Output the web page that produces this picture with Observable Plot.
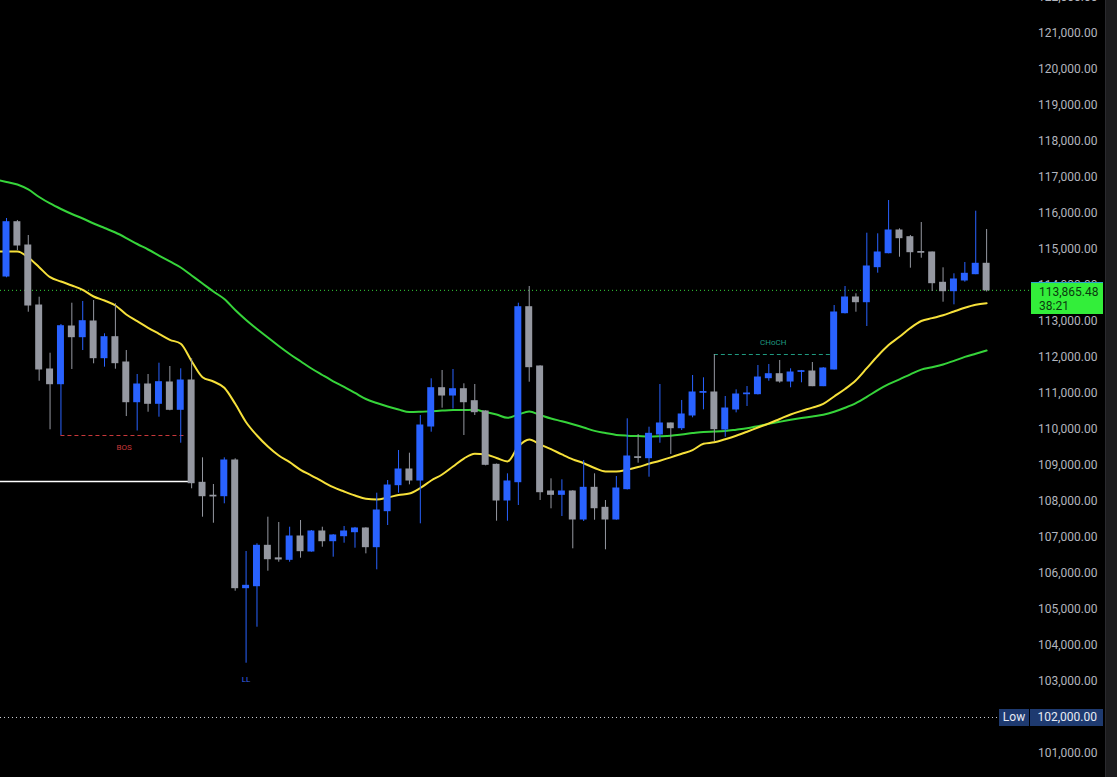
<!DOCTYPE html>
<html><head><meta charset="utf-8">
<script src="https://cdn.jsdelivr.net/npm/d3@7"></script>
<script src="https://cdn.jsdelivr.net/npm/@observablehq/plot@0.6"></script>
<style>
html,body{margin:0;padding:0;background:#000;overflow:hidden}
#wrap{position:relative;width:1117px;height:777px;background:#000}
.ov{position:absolute;font-family:Roboto,"Noto Sans",sans-serif;font-size:12px;box-sizing:border-box}
</style></head><body><div id="wrap"></div><script>
// OHLC candles (index 1..91)
const opens=[114250,115758,115111,113444,111667,111258,112861,112564,113000,111981,112564,111861,110758,111250,110714,111306,110547,111361,108519,108160,108147,109139,105592,105647,106769,106420,106380,107028,106611,107167,106897,107036,107147,107250,106731,107731,108453,108889,108583,110083,111147,110944,111119,110786,110500,109019,108028,108536,113397,111750,108278,108185,108278,107500,108380,107824,107500,108342,109230,109203,109861,110167,110036,110389,111020,111028,110000,110556,110980,110981,111425,111536,111333,111600,111611,111203,111667,113231,113667,113536,114509,114897,115528,115342,114930,114917,114075,113842,114139,114314,114603];
const highs=[115861,115806,115389,113675,112119,112917,113508,113556,113583,112658,113492,112194,111528,111528,111842,111750,111686,111964,109213,108472,109213,109186,106611,106825,107564,107417,107286,107472,107194,107286,107080,107306,107280,107270,108231,108583,109417,109342,110389,111408,111639,111667,111269,111250,110520,109040,108769,113508,113972,111770,108630,108602,108300,109139,108769,108028,108694,110297,109861,110064,111250,110180,110806,111500,111436,112083,110917,111102,111194,111778,111806,111917,111686,111640,111861,111720,113444,113972,113769,115453,115436,116361,115574,115389,115750,114930,114491,114325,114639,116064,115556];
const lows=[114214,114972,113258,111341,109992,109833,111667,112194,111825,111731,111675,110360,109958,110480,110342,110520,109619,108353,107564,107397,107936,105508,103508,104508,106064,106313,106313,106425,106592,106731,106453,106842,106703,106546,106102,107333,108231,108463,107380,109925,110592,110570,109833,110389,108990,107453,107453,107889,111314,108028,107797,107583,106686,107444,107480,106658,107480,108320,109064,108675,109619,109305,109972,110325,110547,109667,109786,110463,110639,110960,111341,111287,111158,111297,111190,111190,111650,113210,113258,112861,114342,114880,114786,114481,114758,113833,113536,113463,114092,114300,113820];
const closes=[115758,115111,113444,111667,111258,112869,112564,113008,111981,112564,111842,110758,111250,110714,111314,110547,111361,108508,108147,108140,109139,105592,105658,106769,106397,106390,107028,106620,107167,106897,107056,107167,107250,106731,107750,108444,108889,108583,110111,111147,110944,111119,110758,110481,109019,108028,108556,113397,111731,108258,108185,108278,107500,108380,107813,107500,108361,109250,109210,109880,110167,110036,110417,111028,111040,110008,110583,110972,111000,111444,111536,111333,111583,111620,111203,111694,113250,113667,113536,114528,114917,115528,115314,114925,114910,114064,113842,114167,114325,114603,113865.48];
// moving averages (index 0..91)
const maFast=[114944,114944,114944,114778,114508,114231,114111,114000,113881,113694,113583,113444,113194,113008,112825,112658,112492,112381,111897,111453,111333,111158,110714,110203,109833,109528,109278,109092,108881,108722,108556,108397,108278,108167,108075,108056,108111,108181,108222,108375,108583,108750,108972,109194,109325,109306,109208,109111,109528,109722,109583,109453,109308,109172,109064,108931,108833,108833,108883,108956,109047,109133,109225,109325,109428,109603,109644,109731,109828,109939,110056,110167,110292,110417,110517,110608,110711,110917,111125,111369,111703,112042,112344,112575,112819,113014,113094,113172,113278,113381,113464,113508];
const maSlow=[116944,116875,116806,116667,116458,116278,116125,115986,115861,115722,115597,115472,115319,115153,115000,114833,114667,114500,114278,114056,113833,113625,113319,113042,112792,112556,112319,112097,111897,111694,111514,111339,111181,111014,110847,110736,110639,110556,110486,110494,110508,110525,110539,110542,110547,110483,110417,110325,110417,110500,110403,110306,110228,110144,110056,109961,109903,109850,109828,109817,109806,109814,109828,109861,109900,109933,109942,109958,109994,110033,110094,110156,110214,110269,110317,110361,110408,110492,110603,110733,110906,111094,111258,111394,111533,111664,111731,111806,111906,112017,112106,112194];
const yTicks=[101000,102000,103000,104000,105000,106000,107000,108000,109000,110000,111000,112000,113000,114000,115000,116000,117000,118000,119000,120000,121000,122000];
// structure levels
const levels=[
  {name:"support",price:108556,from:0.4,to:18},
  {name:"BOS",price:109833,from:6,to:17.5},
  {name:"CHoCH",price:112083,from:66,to:76.7}
];
const labels=[
  {text:"BOS",i:11.8,price:109833,dy:12,color:"#c8383a"},
  {text:"CHoCH",i:71.4,price:112083,dy:-12,color:"#1f9a80"},
  {text:"LL",i:23,price:103508,dy:16,color:"#3b66f0"}
];
const lastPrice=113865.48, lastTimer="38:21", lowPrice=102000;

const BLUE="#2962ff", GRAY="#9598a1", YEL="#f6e03a", GRN="#36d43a";
const candles=opens.map((o,k)=>({i:k+1,o,h:highs[k],l:lows[k],c:closes[k]}));
const col=d=>d.c>=d.o?BLUE:GRAY;
const fast=maFast.map((v,k)=>({i:k,v})), slow=maSlow.map((v,k)=>({i:k,v}));

const chart=Plot.plot({
  width:1117,height:777,marginLeft:0,marginRight:87,marginTop:0,marginBottom:0,
  style:{background:"#000",fontFamily:"Roboto, 'Noto Sans', sans-serif"},
  x:{domain:[0.449,95.03],axis:null},
  y:{domain:[100333.3,121916.7],axis:null},
  color:{type:"identity"},
  marks:[
    Plot.ruleY([lowPrice],{x1:0.449,x2:92.2,stroke:"#cfd2d8",strokeDasharray:"1,3",strokeWidth:1}),
    Plot.ruleY([lastPrice],{stroke:GRN,strokeDasharray:"1,3",strokeWidth:1}),
    Plot.line(slow,{x:"i",y:"v",stroke:GRN,strokeWidth:2,curve:"monotone-x",clip:true}),
    Plot.line(fast,{x:"i",y:"v",stroke:YEL,strokeWidth:2,curve:"monotone-x",clip:true}),
    Plot.ruleY(levels.filter(d=>d.name==="support"),{y:"price",x1:"from",x2:"to",stroke:"#ffffff",strokeWidth:1.5}),
    Plot.ruleY(levels.filter(d=>d.name==="BOS"),{y:"price",x1:"from",x2:"to",stroke:"#c8383a",strokeWidth:1,strokeDasharray:"4,3"}),
    Plot.ruleY(levels.filter(d=>d.name==="CHoCH"),{y:"price",x1:"from",x2:"to",stroke:"#1f9a80",strokeWidth:1,strokeDasharray:"4,3"}),
    Plot.ruleX(candles,{x:"i",y1:"l",y2:"h",stroke:col,strokeWidth:1}),
    Plot.rect(candles,{x1:d=>d.i-0.32,x2:d=>d.i+0.32,y1:"o",y2:"c",fill:col,insetTop:-0.5,insetBottom:-0.5}),
    ...labels.map(L=>Plot.text([L],{x:"i",y:"price",text:"text",dy:L.dy,fill:"color",fontSize:8})),
    Plot.axisY(yTicks,{anchor:"right",tickSize:0,tickPadding:67,textAnchor:"end",tickFormat:d3.format(",.2f"),fill:"#b2b5be",fontSize:12})
  ]
});
const wrap=document.getElementById("wrap");
wrap.appendChild(chart);
const ys=chart.scale("y");
// right stripe
const stripe=document.createElement("div");
stripe.className="ov";
Object.assign(stripe.style,{left:"1105px",top:"0",width:"12px",height:"777px",background:"#1c1c1e",borderLeft:"1px solid #2a2a2e"});
wrap.appendChild(stripe);
// last price box
const yl=ys.apply(lastPrice);
const lp=document.createElement("div");
lp.className="ov";
Object.assign(lp.style,{left:"1031px",top:(yl-8)+"px",width:"72px",height:"32px",background:"#33ee3a",color:"#0a3a0f",paddingLeft:"8px",lineHeight:"14px",paddingTop:"2px",borderTop:"1px solid #2aa6c8"});
lp.innerHTML=d3.format(",.2f")(lastPrice)+"<br>"+lastTimer;
wrap.appendChild(lp);
// low box
const yw=ys.apply(lowPrice);
const lb=document.createElement("div");
lb.className="ov";
Object.assign(lb.style,{left:"999px",top:(yw-8)+"px",width:"104px",height:"17px",display:"flex",color:"#e8ecf4",lineHeight:"17px"});
lb.innerHTML='<div style="width:30px;background:#1e3a70;text-align:center;margin-right:1px">Low</div><div style="flex:1;background:#1e3a70;text-align:right;padding-right:6px">'+d3.format(",.2f")(lowPrice)+'</div>';
wrap.appendChild(lb);
</script></body></html>
